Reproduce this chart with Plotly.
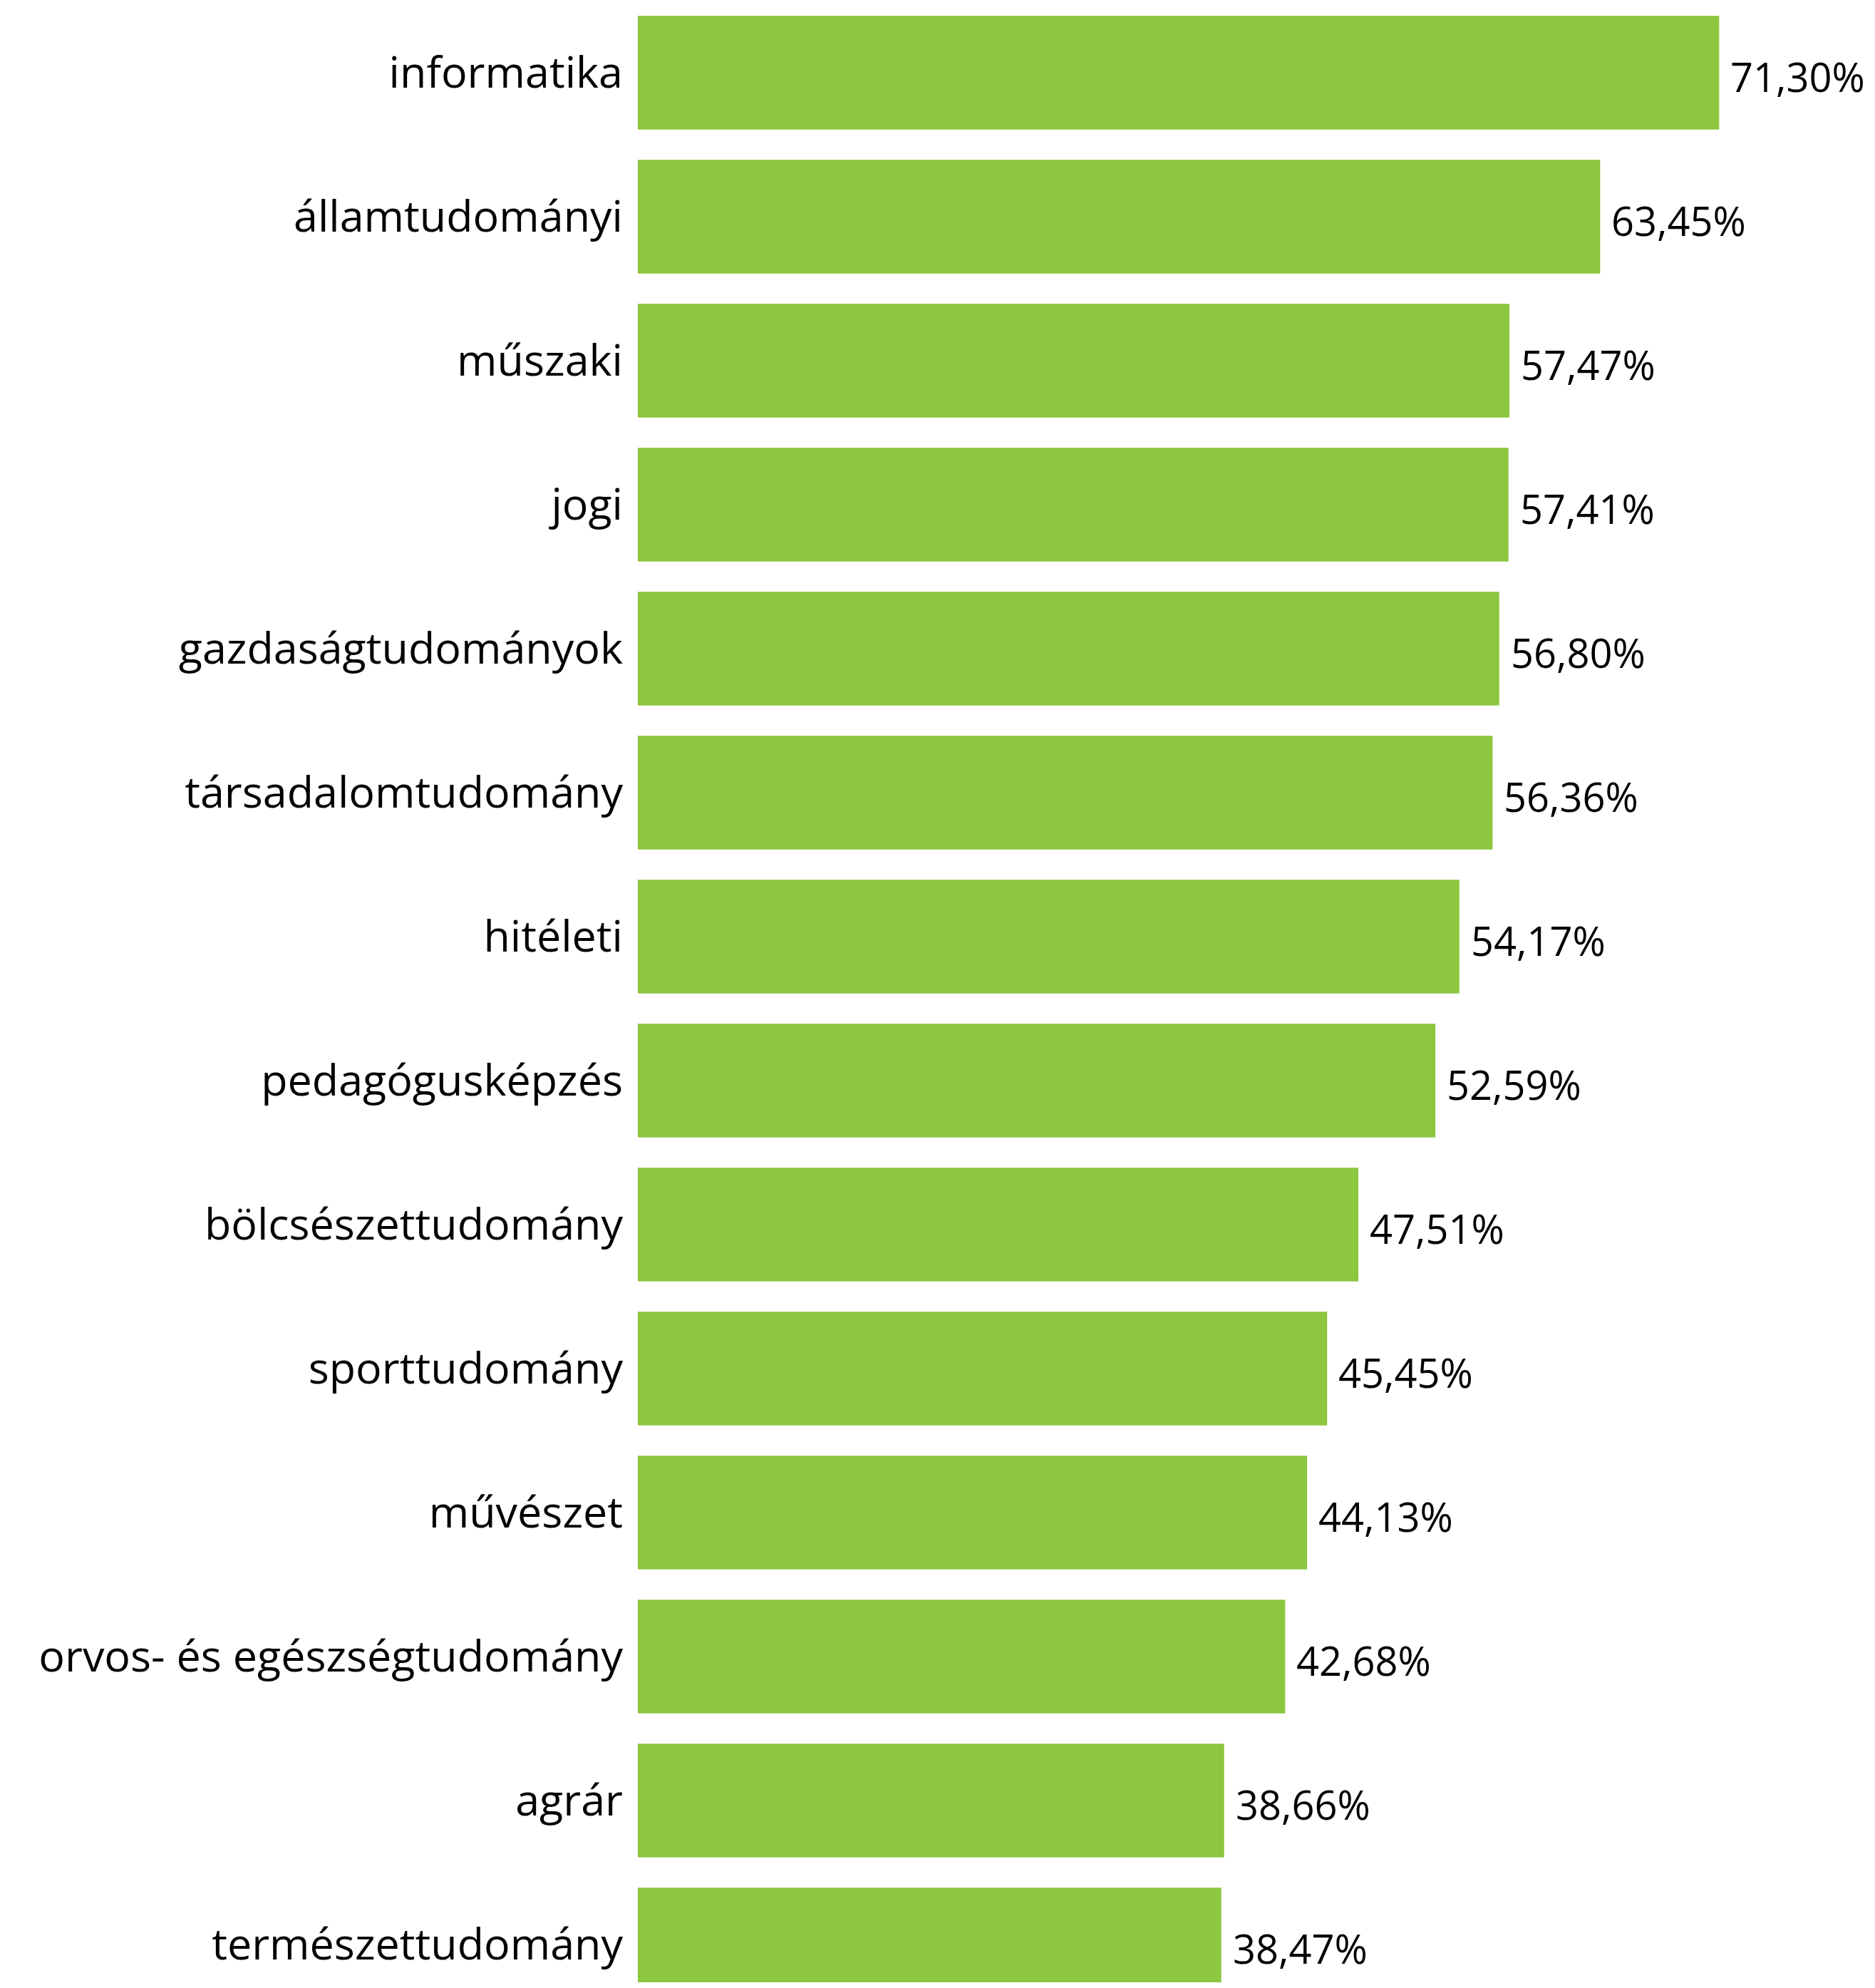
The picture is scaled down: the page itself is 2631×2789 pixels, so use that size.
import plotly.graph_objects as go

categories = [
    "informatika", "államtudományi", "műszaki", "jogi", "gazdaságtudományok",
    "társadalomtudomány", "hitéleti", "pedagógusképzés", "bölcsészettudomány",
    "sporttudomány", "művészet", "orvos- és egészségtudomány", "agrár",
    "természettudomány",
]
values = [71.30, 63.45, 57.47, 57.41, 56.80, 56.36, 54.17, 52.59, 47.51,
          45.45, 44.13, 42.68, 38.66, 38.47]
labels = [f"{v:.2f}".replace(".", ",") + "%" for v in values]

FONT = "Open Sans"
fig = go.Figure()
fig.add_trace(go.Bar(
    x=values, y=categories, orientation="h",
    marker=dict(color="#8DC63F", line=dict(width=0)),
    hoverinfo="skip",
))
for c, v, t in zip(categories, values, labels):
    fig.add_annotation(x=v, y=c, text=t, showarrow=False, xanchor="left",
                       xshift=14, yshift=-5,
                       font=dict(family=FONT, size=56, color="black"))

fig.update_layout(
    width=2615, height=2773,
    margin=dict(l=887, r=0, t=0, b=0),
    plot_bgcolor="white", paper_bgcolor="white",
    bargap=0.21, showlegend=False,
    font=dict(family=FONT, size=56, color="black"),
)
fig.update_xaxes(range=[0, 81.2], visible=False, showgrid=False)
fig.update_yaxes(
    type="category", categoryorder="array", categoryarray=categories,
    range=[13.262, -0.465], showgrid=False, zeroline=False, showline=False,
    ticks="", ticklabelstandoff=20,
    tickfont=dict(family=FONT, size=61, color="black"),
)
fig.write_html("out.html")
